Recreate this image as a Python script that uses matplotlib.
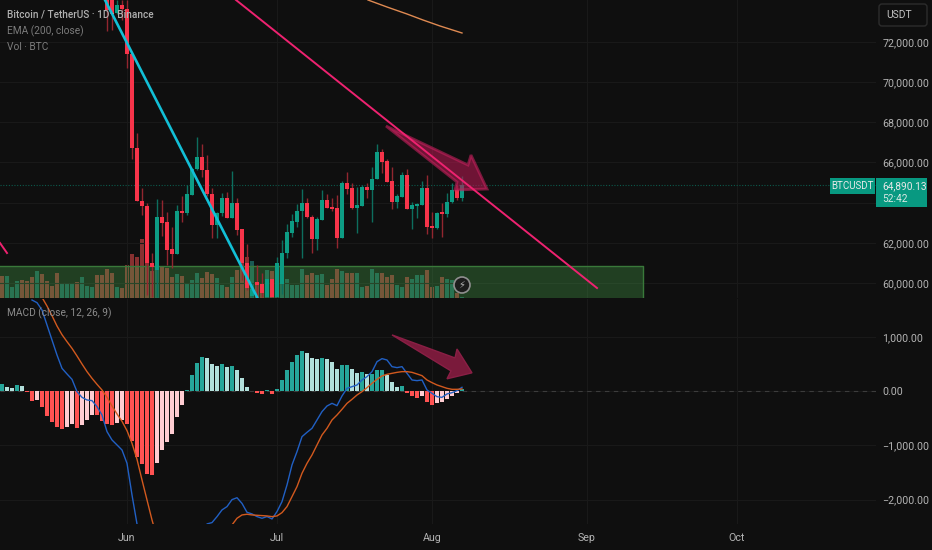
import numpy as np
import matplotlib
matplotlib.use('Agg')
import matplotlib.pyplot as plt
from matplotlib.patches import Polygon, Rectangle, FancyBboxPatch, Circle

plt.rcParams['font.family'] = ['Roboto', 'DejaVu Sans']

# days counted from Jun 1
month_days = [0, 30, 61, 92, 122]
month_labels = ['Jun', 'Jul', 'Aug', 'Sep', 'Oct']
price_ticks = [60000, 62000, 64000, 66000, 68000, 70000, 72000]
macd_ticks = [-2000, -1000, 0, 1000]

# candles, first one is day -4
opens = [74328, 74079, 73432, 73830, 73631, 71392, 66716, 64079, 63831, 60995, 60647, 63283,
         63035, 61691, 61443, 63582, 63482, 64378, 65671, 66268, 65622, 64427, 62885, 63482,
         64229, 63233, 63980, 62686, 60995, 59353, 60050, 59950, 59303, 60199, 59303, 59950,
         61492, 62487, 63035, 63582, 63980, 63283, 62189, 63134, 64129, 63781, 63731, 62238,
         64975, 64726, 63731, 63831, 64776, 64626, 65174, 66517, 66069, 65074, 64030, 64278,
         65373, 63681, 63831, 63880, 64726, 62835, 62736, 63532, 63433, 64030, 64626, 64229]
highs = [74577, 74328, 74079, 74079, 74079, 71392, 67462, 64726, 63980, 61492, 64179, 64129,
         63532, 62786, 63880, 64328, 64875, 65721, 67263, 66915, 66368, 64726, 63532, 64477,
         64527, 65572, 64229, 62686, 61940, 60000, 60895, 60497, 60199, 60199, 61293, 62139,
         62935, 63433, 63930, 64676, 64229, 63383, 63283, 64627, 64427, 64229, 64378, 65074,
         65522, 64975, 64776, 64875, 64975, 65771, 66915, 66666, 66169, 65771, 64427, 65522,
         65671, 64030, 63980, 65074, 65373, 63532, 63532, 63980, 64477, 64975, 64875, 65323]
lows = [72537, 72587, 73383, 73084, 70696, 66169, 64079, 63383, 59403, 59303, 59303, 62338,
        60895, 60746, 61443, 63035, 63383, 64378, 65622, 65273, 64328, 62238, 62238, 63333,
        63233, 63233, 62388, 60149, 59651, 59303, 59303, 59303, 59303, 59303, 59303, 59453,
        61244, 62288, 62786, 61244, 63233, 61492, 61642, 63134, 63731, 63582, 61741, 62238,
        64427, 63681, 62487, 63831, 64229, 63035, 65174, 65472, 65025, 63681, 63731, 64278,
        63681, 62686, 63233, 63880, 62437, 62238, 62686, 62288, 63283, 63980, 64129, 64079]
closes = [73581, 73383, 73830, 73631, 71392, 66716, 64079, 63831, 60995, 60796, 63283, 62985,
          61642, 61443, 63582, 63482, 64427, 65671, 66268, 65622, 64427, 62885, 63482, 64229,
          63233, 63980, 62637, 60995, 59751, 59701, 59900, 59503, 60199, 59303, 60995, 61492,
          62537, 63084, 63582, 63980, 63283, 62189, 63184, 64129, 63731, 63681, 62238, 64975,
          64676, 63731, 63880, 64776, 64626, 65174, 66517, 66019, 65025, 64030, 64328, 65373,
          63681, 63880, 63930, 64726, 62786, 62736, 63482, 63433, 64030, 64626, 64229, 64890]

# volume in thousand BTC, first one is day -25
volumes = [22, 22, 11, 17, 18, 17, 21, 27, 24, 17, 12, 25, 15, 15, 15, 16, 21, 12, 11, 23, 23,
           29, 25, 11, 10, 33, 44, 41, 59, 43, 27, 32, 32, 30, 21, 24, 22, 14, 18, 25, 20, 26, 24, 20, 13, 11, 21, 28,
           41, 41, 37, 14, 14, 28, 27, 33, 30, 19, 13, 13, 29, 23, 25, 23, 24, 13, 19, 29, 27, 25, 25, 25, 11, 12, 29,
           25, 25, 21, 23, 13, 11, 21, 19, 23, 23, 28, 11, 12, 21, 19, 18, 5, 1]
early_volume_up = [0, 1, 1, 1, 0, 0, 0, 1, 0, 0, 0, 0, 1, 1, 1, 0, 1, 1, 1, 0, 0]

# MACD histogram, first one is day -25
histogram = [135, 86, 62, 117, 105, -5, -172, -160, -295, -449, -572, -664, -701, -652, -603, -683, -621, -529, -437,
             -443, -541, -603, -621, -590, -529, -603, -916, -1218, -1341, -1525, -1550, -1316, -1076, -941, -787, -480,
             -246, 25, 295, 523, 627, 609, 504, 474, 504, 455, 467, 394, 240, 86, 12, -37, -49, 18, -49, 43, 209, 387,
             535, 664, 738, 713, 621, 590, 615, 590, 535, 412, 480, 480, 406, 344, 357, 326, 326, 400, 400, 307, 172,
             86, 98, -31, -86, -117, -86, -191, -246, -221, -197, -141, -86, -37, 37]

# MACD line, first one is day -19
macd_line = [1684, 1635, 1500, 1223, 946, 669, 423, 319, 220, -7, -112, -161, -173, -284, -438, -745, -899, -991, -1084,
             -1330, -1914, -2449, -2950, -3450, -3900, -4200, -4300, -4300, -4200, -4050, -3850, -3600, -3300, -3000,
             -2800, -2449, -2424, -2314, -2190, -2129, -2000, -1965, -2070, -2234, -2264, -2313, -2344, -2313, -2357,
             -2221, -2037, -1729, -1360, -1114, -838, -758, -684, -530, -376, -272, -223, -266, -87, 54, 85, 116, 208,
             270, 362, 546, 602, 577, 454, 436, 454, 331, 208, 196, 208, 23, -38, -100, -112, -50, -26, 11, 73]
# signal line, first one is day -17
signal_line = [1733, 1573, 1395, 1204, 1044, 915, 792, 651, 503, 362, 239, 128, 23, -112, -272, -419, -555, -727, -961,
               -1256, -1637, -2006, -2375, -2700, -3000, -3200, -3400, -3550, -3650, -3650, -3600, -3500, -3350, -3200,
               -3050, -2900, -2750, -2620, -2467, -2344, -2283, -2270, -2283, -2289, -2295, -2301, -2314, -2301, -2240,
               -2129, -1945, -1760, -1514, -1330, -1176, -991, -807, -684, -530, -438, -333, -223, -149, -69, -7, 66,
               147, 220, 282, 313, 331, 349, 362, 362, 349, 319, 288, 208, 159, 116, 85, 54, 36, 36, 42]

# EMA 200 and drawn lines (day, price)
ema_days = [48.2, 52, 56, 59.2, 62.6, 67]
ema_values = [74079, 73731, 73383, 73084, 72786, 72438]
cyan_days = [-4.4, 26]
cyan_prices = [74079, 59303]
pink_days = [21.8, 94]
pink_prices = [74079, 59751]
pink_old_days = [-25.4, -24]
pink_old_prices = [61990, 61492]
last_price = 64890.13

zone_days = [-25.4, 103.2]
zone_prices = [59279, 60846]

arrow_days = [51.8, 68.2, 68.8, 72, 65.6, 66]
arrow_prices = [67810, 65870, 66368, 64676, 64627, 65025]
macd_arrow_days = [53, 65.6, 66, 69, 64, 64.8]
macd_arrow_values = [1040, 615, 780, 340, 230, 375]

BG = '#0f0f0f'
GRID = '#191919'
UP = '#0d9c84'
DOWN = '#f7344a'
LABEL = '#b4b4b4'

W, H = 932, 550
RIGHT = 876
fig = plt.figure(figsize=(W / 100, H / 100), dpi=100, facecolor=BG)


def pane(top, bottom):
    ax = fig.add_axes([0, 1 - bottom / H, RIGHT / W, (bottom - top) / H])
    ax.set_xlim(-25.4, 149.8)
    for s in ax.spines.values():
        s.set_visible(False)
    ax.set_xticks(month_days)
    ax.tick_params(length=0, colors=LABEL, labelsize=7.7)
    ax.grid(True, color=GRID, lw=0.8)
    ax.set_axisbelow(True)
    ax.set_facecolor(BG)
    return ax


# volume sits under the candles
ax_vol = pane(0, 297.5)
ax_vol.set_ylim(0, 297.5)
ax_vol.set_yticks([])
ax_vol.set_xticklabels([])
ax_vol.grid(False)
ax_vol.set_zorder(1)

ax_price = pane(0, 297.5)
ax_price.set_zorder(2)
ax_price.patch.set_visible(False)
ax_price.set_ylim(59279, 74079)
ax_price.yaxis.tick_right()
ax_price.set_yticks(price_ticks)
ax_price.set_yticklabels(['' if t == 64000 else f'{t:,.2f}' for t in price_ticks])
ax_price.tick_params(axis='y', pad=4.4)
ax_price.set_xticklabels([])

ax_macd = pane(298.5, 524)
ax_macd.set_ylim(-2450, 1712)
ax_macd.yaxis.tick_right()
ax_macd.set_yticks(macd_ticks)
ax_macd.set_yticklabels([f'{t:,.2f}'.replace('-', '\u2212') for t in macd_ticks])
ax_macd.tick_params(axis='y', pad=4.4)
ax_macd.set_xticklabels(month_labels)
ax_macd.tick_params(axis='x', pad=6.5)

# candles
candle_days = np.arange(-4, -4 + len(opens))
o, h, l, c = map(np.array, (opens, highs, lows, closes))
up = c >= o
candle_colors = np.where(up, UP, DOWN)
wick_colors = np.where(up, '#0d6e5e', '#92262f')

# volume
vol_days = np.arange(-25, -25 + len(volumes))
vol_up = np.concatenate([np.array(early_volume_up, dtype=bool), up])
ax_vol.bar(vol_days, volumes, width=0.92, color=np.where(vol_up, '#26a69a', '#ff5252'), alpha=0.5, lw=0)

# support zone over the volume bars
ax_price.add_patch(Rectangle((zone_days[0], zone_prices[0]), zone_days[1] - zone_days[0],
                             zone_prices[1] - zone_prices[0], fc='#4caf50', alpha=0.3, lw=0, zorder=2))
ax_price.plot([zone_days[0], zone_days[1], zone_days[1]], [zone_prices[1], zone_prices[1], zone_prices[0]],
              color='#39793a', lw=1, zorder=2.1)

ax_price.axhline(last_price, color='#0c5a4c', lw=0.8, ls=(0, (1, 1.5)), zorder=2.2)
ax_price.vlines(candle_days, l, h, colors=wick_colors, lw=1, zorder=3)
ax_price.bar(candle_days, np.maximum(np.abs(c - o), 40), bottom=np.minimum(o, c), width=0.8, color=candle_colors,
             lw=0, zorder=4)

ax_price.plot(ema_days, ema_values, color='#df8a52', lw=1, zorder=5)
ax_price.plot(cyan_days, cyan_prices, color='#12bfd6', lw=1.9, zorder=6)
ax_price.plot(pink_days, pink_prices, color='#ee2270', lw=1.4, zorder=7)
ax_price.plot(pink_old_days, pink_old_prices, color='#ee2270', lw=1.4, zorder=7)
ax_price.add_patch(Polygon(np.column_stack([arrow_days, arrow_prices]), closed=True, fc='#b0194f', ec='#c2205c',
                           alpha=0.6, lw=2, zorder=6.5))

# macd pane
hist = np.array(histogram)
prev = np.concatenate([[hist[0]], hist[:-1]])
hist_colors = ['#26a69a' if v >= 0 and v >= p else '#b2dfdb' if v >= 0 else '#ffcdd2' if v >= p else '#ff5252'
               for v, p in zip(hist, prev)]
hist_days = np.arange(-25, -25 + len(hist))
ax_macd.axhline(0, color='#3c3c3c', lw=0.8, ls=(0, (4, 4)), zorder=1)
ax_macd.bar(hist_days, hist, width=0.92, color=hist_colors, lw=0, zorder=2)
ax_macd.plot(np.arange(-19, -19 + len(macd_line)), macd_line, color='#2160c4', lw=1, zorder=3)
ax_macd.plot(np.arange(-17, -17 + len(signal_line)), signal_line, color='#d2591e', lw=1, zorder=4)
ax_macd.add_patch(Polygon(np.column_stack([macd_arrow_days, macd_arrow_values]), closed=True, fc='#7a1a3b',
                          ec='#8a1f45', lw=1, zorder=5))

# overlay in pixels for the labels
ax_top = fig.add_axes([0, 0, 1, 1], zorder=5)
ax_top.set_xlim(0, W)
ax_top.set_ylim(H, 0)
ax_top.axis('off')
ax_top.patch.set_visible(False)

ax_top.text(7, 15, 'Bitcoin / TetherUS \u00b7 1D \u00b7 Binance', color='#b0b0b0', fontsize=7.2, fontweight='medium',
            va='center')
ax_top.text(7, 31, 'EMA (200, close)', color='#7c7c7c', fontsize=7.3, va='center')
ax_top.text(7, 47, 'Vol \u00b7 BTC', color='#7c7c7c', fontsize=7.3, va='center')
ax_top.text(7, 313, 'MACD (close, 12, 26, 9)', color='#8c8c8c', fontsize=7.3, va='center')

ax_top.add_patch(FancyBboxPatch((879, 4), 48, 22, boxstyle='round,pad=0,rounding_size=3', fc=BG, ec='#2c2c2c', lw=1))
ax_top.text(886, 15, 'USDT', color='#c4c4c4', fontsize=7.4, va='center')

ax_top.add_patch(Rectangle((830, 178), 45, 16, fc='#089981', lw=0))
ax_top.text(852.5, 186, 'BTCUSDT', color='#e8e8e8', fontsize=7, ha='center', va='center')
ax_top.add_patch(Rectangle((876, 178), 51, 29, fc='#089981', lw=0))
ax_top.text(882, 186, f'{last_price:,.2f}', color='#e8e8e8', fontsize=7.3, va='center')
ax_top.text(882, 199, '52:42', color='#d8e8e4', fontsize=7.3, va='center')

ax_top.add_patch(Circle((462, 285), 8, fc='#1c1c1c', ec='#8f8f8f', lw=1.2))
ax_top.text(462, 285, '\u26a1', color='#b8b8b8', fontsize=7, ha='center', va='center', family='DejaVu Sans')

fig.savefig('out.png', dpi=100, facecolor=BG)
